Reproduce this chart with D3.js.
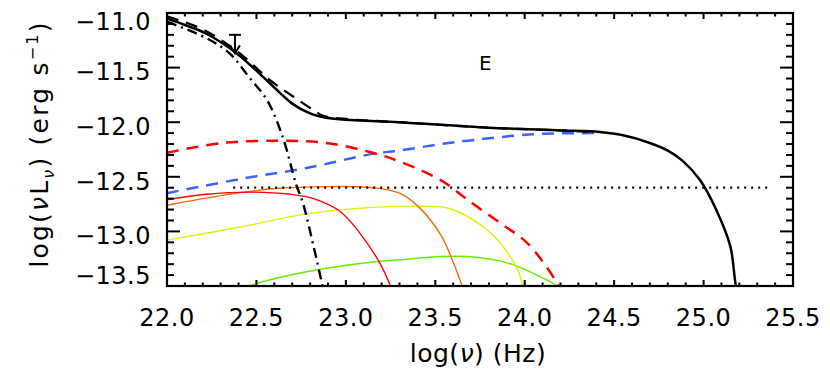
<!DOCTYPE html>
<html>
<head>
<meta charset="utf-8">
<script src="https://cdn.jsdelivr.net/npm/d3@7"></script>
<style>
  body { margin: 0; background: #fff; }
  text { font-family: "DejaVu Sans", sans-serif; fill: #000; }
</style>
</head>
<body>
<svg id="chart"></svg>
<script>
// constants
const width = 830;
const height = 376;
const margin = { left: 167, right: 37, top: 13, bottom: 90 };
const visWidth = width - margin.left - margin.right;
const visHeight = height - margin.top - margin.bottom;

// data (log nu, log nuLnu)
const totalX = [22.0, 22.1, 22.22, 22.39, 22.56, 22.70, 22.80, 22.86, 22.95, 23.3, 23.8, 24.2, 24.42, 24.55, 24.70, 24.80, 24.88, 24.98, 25.07, 25.15, 25.18, 25.2];
const totalY = [-11.05, -11.11, -11.19, -11.37, -11.62, -11.83, -11.92, -11.95, -11.97, -12.0, -12.05, -12.075, -12.09, -12.12, -12.19, -12.26, -12.35, -12.53, -12.80, -13.14, -13.49, -13.6];

const modelX = [22.0, 22.2, 22.4, 22.58, 22.71, 22.82, 22.87, 23.0, 23.3, 23.8, 24.2, 24.4];
const modelY = [-11.03, -11.15, -11.36, -11.62, -11.77, -11.89, -11.94, -11.97, -12.0, -12.05, -12.075, -12.09];

const extX = [22.0, 22.22, 22.35, 22.46, 22.56, 22.65, 22.72, 22.76, 22.82, 22.87, 22.9];
const extY = [-11.08, -11.23, -11.37, -11.59, -11.80, -12.15, -12.56, -12.74, -13.14, -13.50, -13.7];

const redDashX = [22.0, 22.31, 22.63, 22.89, 23.15, 23.30, 23.53, 23.68, 23.86, 24.01, 24.12, 24.19, 24.22];
const redDashY = [-12.28, -12.19, -12.17, -12.19, -12.28, -12.36, -12.53, -12.71, -12.92, -13.10, -13.32, -13.50, -13.6];

const blueDashX = [22.0, 22.41, 22.78, 23.15, 23.30, 23.53, 23.68, 24.05, 24.42];
const blueDashY = [-12.65, -12.52, -12.42, -12.29, -12.26, -12.20, -12.17, -12.11, -12.10];

const limitX = [22.37, 25.36];
const limitY = -12.6;

const redX = [22.0, 22.22, 22.46, 22.69, 22.82, 22.97, 23.08, 23.19, 23.25, 23.27];
const redY = [-12.71, -12.66, -12.64, -12.66, -12.70, -12.82, -13.02, -13.29, -13.50, -13.6];

const orangeX = [22.0, 22.31, 22.59, 22.89, 23.15, 23.30, 23.41, 23.53, 23.60, 23.65, 23.67];
const orangeY = [-12.76, -12.67, -12.61, -12.59, -12.60, -12.65, -12.78, -13.03, -13.28, -13.50, -13.6];

const yellowX = [22.0, 22.41, 22.78, 23.15, 23.43, 23.58, 23.77, 23.88, 23.96, 23.99, 24.0];
const yellowY = [-13.08, -12.96, -12.84, -12.78, -12.77, -12.79, -12.96, -13.14, -13.35, -13.50, -13.6];

const greenX = [22.4, 22.46, 22.78, 23.15, 23.30, 23.53, 23.68, 23.86, 23.96, 24.08, 24.18, 24.2];
const greenY = [-13.55, -13.50, -13.37, -13.28, -13.26, -13.23, -13.23, -13.27, -13.32, -13.41, -13.50, -13.55];

const upperLimit = { x: 22.38, top: -11.20, tip: -11.37 };
const xTicks = [22.0, 22.5, 23.0, 23.5, 24.0, 24.5, 25.0, 25.5];
const yTicks = [-11.0, -11.5, -12.0, -12.5, -13.0, -13.5];

const svg = d3.select('svg#chart').attr('width', width).attr('height', height);

const x = d3.scaleLinear().domain([22.0, 25.5]).range([0, visWidth]);
const y = d3.scaleLinear().domain([-13.5, -11.0]).range([visHeight, 0]);

const g = svg.append('g').attr('transform', 'translate(' + margin.left + ',' + margin.top + ')');

svg.append('defs').append('clipPath').attr('id', 'plot-clip')
  .append('rect').attr('width', visWidth).attr('height', visHeight);

const curves = g.append('g').attr('clip-path', 'url(#plot-clip)');

const line = d3.line().x(d => x(d[0])).y(d => y(d[1])).curve(d3.curveCatmullRom.alpha(0.5));
const pairs = (xs, ys) => xs.map((v, i) => [v, ys[i]]);

// thin coloured components
function drawCurve(xs, ys, color, w, dash) {
  curves.append('path')
    .datum(pairs(xs, ys))
    .attr('d', line)
    .attr('fill', 'none')
    .attr('stroke', color)
    .attr('stroke-width', w)
    .attr('stroke-dasharray', dash || null);
}

drawCurve(greenX, greenY, '#66ee00', 1.4);
drawCurve(yellowX, yellowY, '#e2f000', 1.4);
drawCurve(orangeX, orangeY, '#ff6600', 1.4);
drawCurve(redX, redY, '#ff0000', 1.4);
drawCurve(blueDashX, blueDashY, '#3a62ff', 2.5, '12,8');
drawCurve(redDashX, redDashY, '#ff0000', 2.5, '12,8');

curves.append('line')
  .attr('x1', x(limitX[0])).attr('x2', x(limitX[1]))
  .attr('y1', y(limitY)).attr('y2', y(limitY))
  .attr('stroke', '#000').attr('stroke-width', 2.2).attr('stroke-dasharray', '2,5');

drawCurve(extX, extY, '#000', 2.4, '10,5,2,5');
drawCurve(modelX, modelY, '#000', 2.2, '12,8');
drawCurve(totalX, totalY, '#000', 2.5);

// upper limit marker
const ul = g.append('g').attr('stroke', '#000').attr('stroke-width', 2).attr('fill', 'none');
ul.append('line').attr('x1', x(upperLimit.x) - 6).attr('x2', x(upperLimit.x) + 6)
  .attr('y1', y(upperLimit.top)).attr('y2', y(upperLimit.top));
ul.append('line').attr('x1', x(upperLimit.x)).attr('x2', x(upperLimit.x))
  .attr('y1', y(upperLimit.top)).attr('y2', y(upperLimit.tip));
ul.append('path').attr('d', 'M' + (x(upperLimit.x) - 5) + ',' + (y(upperLimit.tip) - 8) +
  'L' + x(upperLimit.x) + ',' + y(upperLimit.tip) + 'L' + (x(upperLimit.x) + 5) + ',' + (y(upperLimit.tip) - 8));

// label E
g.append('text').attr('x', x(23.78)).attr('y', y(-11.45) + 8)
  .attr('text-anchor', 'middle').attr('font-size', 20).text('E');

// frame and ticks (IDL style, all four sides)
const xMinor = d3.range(22.0, 25.51, 0.1);
const yMinor = d3.range(-13.5, -10.99, 0.1);
const ticks = g.append('g').attr('stroke', '#000').attr('stroke-width', 2);
xMinor.forEach(v => {
  const major = xTicks.some(t => Math.abs(t - v) < 1e-6);
  const len = major ? 6 : 3.5;
  ticks.append('line').attr('x1', x(v)).attr('x2', x(v)).attr('y1', visHeight).attr('y2', visHeight - len);
  ticks.append('line').attr('x1', x(v)).attr('x2', x(v)).attr('y1', 0).attr('y2', len);
});
yMinor.forEach(v => {
  const major = yTicks.some(t => Math.abs(t - v) < 1e-6);
  const len = major ? 13 : 7;
  ticks.append('line').attr('x1', 0).attr('x2', len).attr('y1', y(v)).attr('y2', y(v));
  ticks.append('line').attr('x1', visWidth).attr('x2', visWidth - len).attr('y1', y(v)).attr('y2', y(v));
});
g.append('rect').attr('width', visWidth).attr('height', visHeight)
  .attr('fill', 'none').attr('stroke', '#000').attr('stroke-width', 2.2);

// tick labels
g.selectAll('.xl').data(xTicks).enter().append('text')
  .attr('x', d => x(d)).attr('y', visHeight + 40)
  .attr('text-anchor', 'middle').attr('font-size', 24).attr('letter-spacing', 0.5)
  .text(d => d.toFixed(1));
g.selectAll('.yl').data(yTicks).enter().append('text')
  .attr('x', -16).attr('y', d => Math.max(8, Math.min(y(d) + 4, visHeight - 11)) + 8.75)
  .attr('text-anchor', 'end').attr('font-size', 24).attr('letter-spacing', 0.5)
  .text(d => '\u2212' + Math.abs(d).toFixed(1));

// axis titles
g.append('text').attr('x', x(23.75) - 2).attr('y', visHeight + 76)
  .attr('text-anchor', 'middle').attr('font-size', 25).attr('letter-spacing', 0.5)
  .html('log(<tspan font-style="italic">ν</tspan>)  (Hz)');

g.append('text').attr('transform', 'translate(' + (-119) + ',' + 131 + ') rotate(-90)')
  .attr('text-anchor', 'middle').attr('font-size', 25).attr('letter-spacing', 2.2)
  .html('log(<tspan font-style="italic">ν</tspan>L<tspan font-size="16" dy="6" font-style="italic">ν</tspan><tspan dy="-6">)  (erg s</tspan><tspan font-size="16" dy="-10">−1</tspan><tspan dy="10">)</tspan>');
</script>
</body>
</html>
